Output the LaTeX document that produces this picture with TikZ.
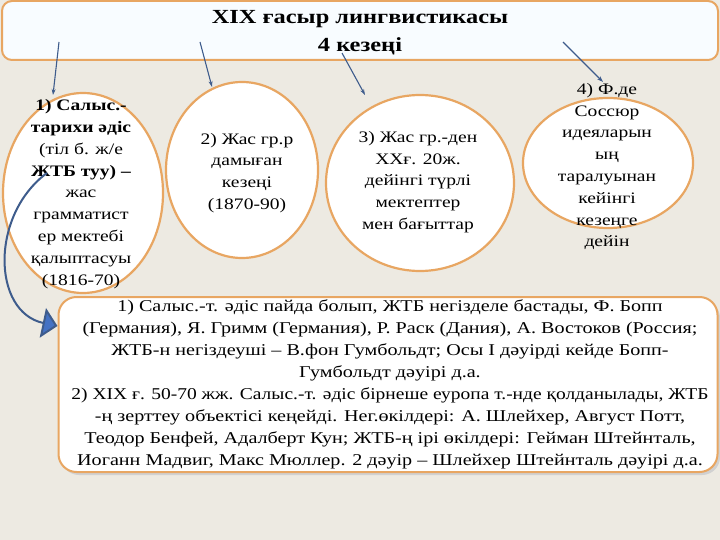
\documentclass[tikz,border=0pt]{standalone}
\usepackage{fontspec}
\setmainfont[FakeStretch=1.22]{Liberation Serif}
\newfontfamily\lessstretch[FakeStretch=1.18]{Liberation Serif}
\usetikzlibrary{shapes.geometric,arrows.meta}
\definecolor{bgc}{RGB}{237,234,226}
\definecolor{orng}{RGB}{232,166,98}
\definecolor{boxfill}{RGB}{248,252,255}
\definecolor{lnblue}{RGB}{62,92,140}
\definecolor{tipblue}{RGB}{68,114,196}
\tikzset{
  oval/.style={ellipse, draw=orng, line width=2.2pt, fill=white, inner sep=0pt},
  ovaltext/.style={align=center, font=\fontsize{16}{21.8}\selectfont, inner sep=0pt},
  roundbox/.style={draw=orng, line width=2pt, fill=boxfill},
  thinarrow/.style={draw=lnblue, line width=1.1pt, -{Stealth[length=6pt,width=4pt]}},
  curvearrow/.style={draw=lnblue, line width=2pt, -{Triangle[length=15pt,width=30pt,fill=tipblue]}}
}
\begin{document}
\begin{tikzpicture}[x=1pt,y=-1pt]
\useasboundingbox (0,0) rectangle (720,540);
\fill[bgc] (0,0) rectangle (720,540);
% title box
\node[roundbox, rounded corners=10pt, minimum width=716pt, minimum height=59pt, inner sep=0pt] (title) at (360,30.5) {};
\node[align=center, font=\fontsize{20}{28}\selectfont\bfseries, inner sep=0pt] (titletext) at (360,33) {XIX ғасыр лингвистикасы\\4 кезеңі};
% ellipses
\node[oval, minimum width=160pt, minimum height=200pt] (e1) at (83,193) {};
\node[oval, minimum width=152pt, minimum height=176pt] (e2) at (242,170) {};
\node[oval, minimum width=188pt, minimum height=176pt] (e3) at (420,183) {};
\node[oval, minimum width=170pt, minimum height=130pt] (e4) at (608,163) {};
\node[ovaltext] (t1) at (81,194) {\textbf{1) Салыс.-}\\\textbf{тарихи әдіс}\\(тіл б. ж/е\\\textbf{ЖТБ туу) –}\\жас\\грамматист\\ер мектебі\\қалыптасуы\\(1816-70)};
\node[ovaltext] (t2) at (247,173) {2) Жас гр.р\\дамыған\\кезеңі\\(1870-90)};
\node[ovaltext] (t3) at (418,182) {3) Жас гр.-ден\\XXғ. 20ж.\\дейінгі түрлі\\мектептер\\мен бағыттар};
\node[ovaltext] (t4) at (607,166.5) {4) Ф.де\\Соссюр\\идеяларын\\ың\\таралуынан\\кейінгі\\кезеңге\\дейін};
% bottom box
\fill[black!18, rounded corners=18pt] (61,300) rectangle (720,475);
\node[roundbox, rounded corners=18pt, minimum width=659pt, minimum height=175pt, inner sep=0pt, fill=white] (bottom) at (388,384.5) {};
\node[align=center, font=\fontsize{16.5}{21.9}\selectfont, inner sep=0pt] (btext) at (390,384.5) {1) Салыс.-т. әдіс пайда болып, ЖТБ негізделе бастады, Ф. Бопп\\(Германия), Я. Гримм (Германия), Р. Раск (Дания), А. Востоков (Россия;\\ЖТБ-н негіздеуші – В.фон Гумбольдт; Осы І дәуірді кейде Бопп-\\Гумбольдт дәуірі д.а.\\{\lessstretch 2) XIX ғ. 50-70 жж. Салыс.-т. әдіс бірнеше еуропа т.-нде қолданылады, ЖТБ}\\-ң зерттеу объектісі кеңейді. Нег.өкілдері: А. Шлейхер, Август Потт,\\Теодор Бенфей, Адалберт Кун; ЖТБ-ң ірі өкілдері: Гейман Штейнталь,\\Иоганн Мадвиг, Макс Мюллер. 2 дәуір – Шлейхер Штейнталь дәуірі д.а.};
% connectors
\coordinate (s1) at (59,42);
\coordinate (s2) at (200,42);
\coordinate (s3) at (342,53);
\coordinate (s4) at (563,42);
\coordinate (a1) at (53,95);
\coordinate (a2) at (212,87);
\coordinate (a3) at (365,95);
\coordinate (a4) at (603,82);
\coordinate (c0) at (47,173);
\coordinate (c1) at (43,326);
\draw[thinarrow] (s1) -- (a1);
\draw[thinarrow] (s2) -- (a2);
\draw[thinarrow] (s3) -- (a3);
\draw[thinarrow] (s4) -- (a4);
\draw[curvearrow] (c0) .. controls (-10,215) and (-8,312) .. (bottom.west |- c1);
\end{tikzpicture}
\end{document}
